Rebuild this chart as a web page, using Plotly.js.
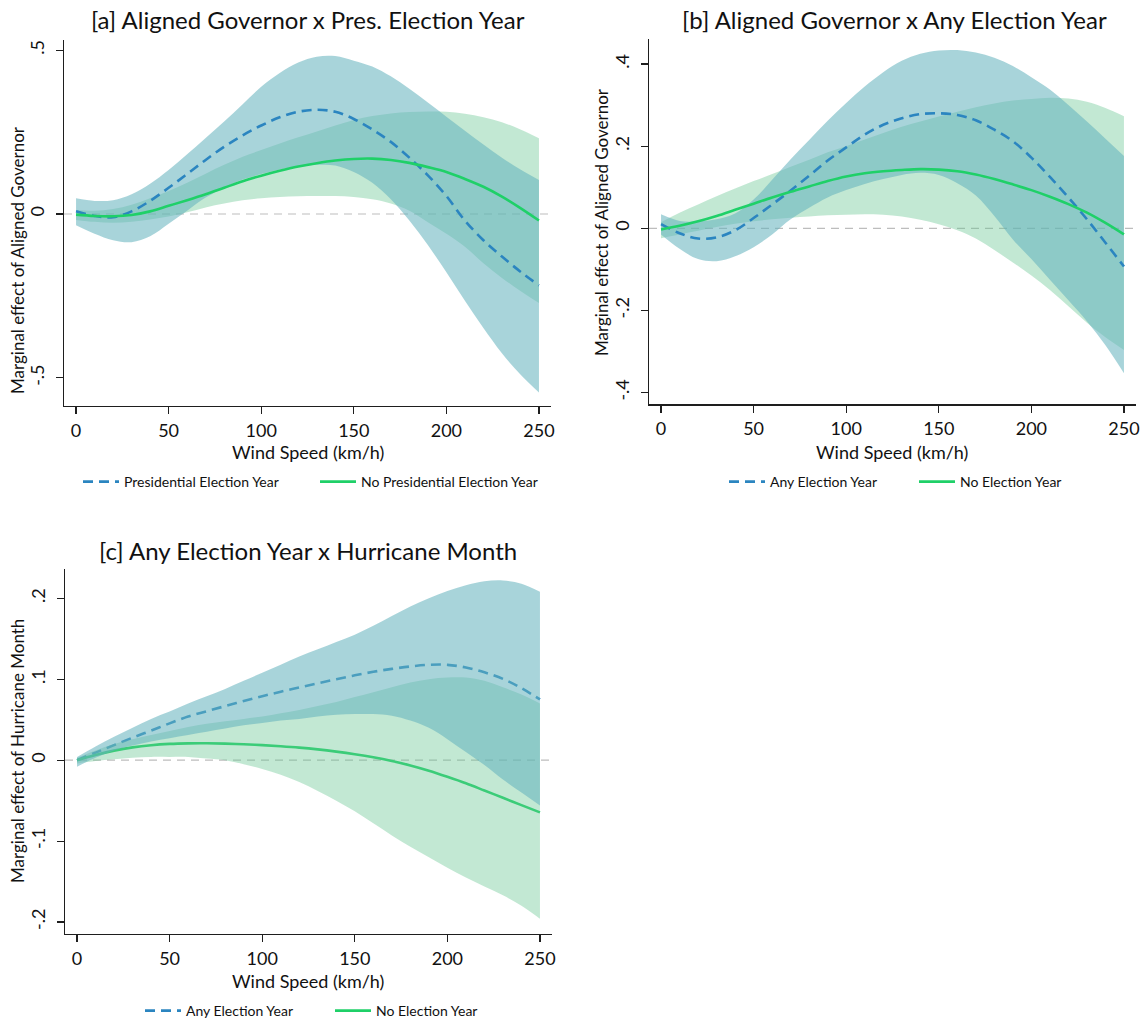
<!DOCTYPE html>
<html>
<head>
<meta charset="utf-8">
<script src="https://cdn.plot.ly/plotly-3.0.1.min.js"></script>
<style>html,body{margin:0;padding:0;background:#fff;}#chart{width:1143px;height:1023px;}</style>
</head>
<body>
<div id="chart"></div>
<script>
// Wind speed grid (km/h)
const windSpeed = [0,10,20,30,40,50,60,70,80,90,100,110,120,130,140,150,160,170,180,190,200,210,220,230,240,250];

// [a] Aligned Governor x Pres. Election Year
const aPresMean = [0.008,-0.006,-0.01,0.008,0.04,0.08,0.122,0.165,0.205,0.24,0.27,0.295,0.312,0.318,0.312,0.29,0.258,0.22,0.172,0.118,0.055,-0.02,-0.08,-0.13,-0.176,-0.218];
const aPresHi   = [0.048,0.04,0.042,0.06,0.092,0.134,0.182,0.232,0.282,0.335,0.388,0.43,0.462,0.48,0.482,0.468,0.45,0.42,0.382,0.34,0.297,0.254,0.212,0.172,0.136,0.104];
const aPresLo   = [-0.034,-0.06,-0.08,-0.086,-0.068,-0.03,0.01,0.05,0.08,0.105,0.122,0.136,0.145,0.15,0.148,0.128,0.095,0.045,-0.02,-0.095,-0.178,-0.265,-0.348,-0.425,-0.49,-0.545];
const aNoMean   = [-0.002,-0.006,-0.007,-0.003,0.008,0.025,0.042,0.06,0.08,0.1,0.117,0.132,0.145,0.155,0.163,0.168,0.169,0.165,0.156,0.143,0.128,0.107,0.083,0.053,0.018,-0.02];
const aNoHi     = [0.012,0.01,0.015,0.028,0.048,0.07,0.095,0.123,0.15,0.175,0.195,0.215,0.234,0.252,0.27,0.287,0.299,0.307,0.311,0.313,0.312,0.306,0.295,0.28,0.258,0.231];
const aNoLo     = [-0.018,-0.024,-0.027,-0.024,-0.017,-0.008,0.005,0.02,0.032,0.042,0.048,0.052,0.054,0.055,0.055,0.052,0.045,0.032,0.01,-0.025,-0.06,-0.1,-0.15,-0.195,-0.235,-0.272];

// [b] Aligned Governor x Any Election Year
const bAnyMean = [0.01,-0.012,-0.025,-0.022,-0.005,0.025,0.058,0.092,0.128,0.165,0.197,0.228,0.252,0.268,0.278,0.28,0.276,0.263,0.24,0.212,0.172,0.125,0.075,0.022,-0.035,-0.093];
const bAnyHi   = [0.034,0.018,0.017,0.022,0.036,0.07,0.118,0.168,0.215,0.262,0.305,0.345,0.38,0.408,0.425,0.433,0.434,0.428,0.415,0.395,0.368,0.338,0.3,0.26,0.218,0.176];
const bAnyLo   = [-0.015,-0.05,-0.075,-0.08,-0.068,-0.046,-0.015,0.022,0.05,0.075,0.093,0.108,0.12,0.13,0.135,0.13,0.11,0.08,0.03,-0.027,-0.075,-0.125,-0.175,-0.226,-0.285,-0.353];
const bNoMean  = [-0.003,0.006,0.017,0.03,0.045,0.06,0.075,0.089,0.102,0.115,0.126,0.134,0.139,0.142,0.144,0.143,0.139,0.131,0.12,0.107,0.093,0.077,0.059,0.038,0.013,-0.015];
const bNoHi    = [0.015,0.038,0.058,0.078,0.097,0.115,0.132,0.15,0.167,0.185,0.2,0.216,0.232,0.247,0.26,0.272,0.284,0.295,0.304,0.311,0.315,0.318,0.316,0.308,0.293,0.273];
const bNoLo    = [-0.024,-0.015,-0.006,0.003,0.011,0.017,0.022,0.026,0.029,0.032,0.033,0.034,0.033,0.029,0.021,0.01,-0.005,-0.025,-0.053,-0.083,-0.115,-0.15,-0.19,-0.23,-0.265,-0.296];

// [c] Any Election Year x Hurricane Month
const cAnyMean = [0,0.0093,0.0186,0.0278,0.0365,0.0455,0.054,0.0605,0.0668,0.073,0.079,0.0846,0.0899,0.095,0.1,0.1048,0.1092,0.1128,0.1158,0.1178,0.1178,0.1145,0.1085,0.1005,0.089,0.075];
const cAnyHi   = [0.004,0.017,0.029,0.04,0.051,0.06,0.07,0.079,0.088,0.098,0.108,0.118,0.128,0.137,0.146,0.155,0.166,0.178,0.19,0.2,0.209,0.216,0.221,0.222,0.218,0.208];
const cAnyLo   = [-0.008,0.003,0.012,0.018,0.023,0.027,0.031,0.035,0.039,0.043,0.046,0.049,0.051,0.054,0.056,0.057,0.057,0.055,0.049,0.04,0.026,0.01,-0.006,-0.024,-0.04,-0.056];
const cNoMean  = [0,0.0065,0.0118,0.0158,0.0185,0.0201,0.0208,0.0209,0.0205,0.0197,0.0186,0.0172,0.0155,0.0133,0.0106,0.0074,0.0036,-0.001,-0.0065,-0.013,-0.0205,-0.0285,-0.0375,-0.0465,-0.0555,-0.0645];
const cNoHi    = [0.003,0.012,0.02,0.026,0.031,0.036,0.041,0.045,0.048,0.051,0.054,0.058,0.062,0.067,0.072,0.078,0.084,0.09,0.096,0.1,0.102,0.102,0.098,0.09,0.081,0.07];
const cNoLo    = [-0.004,-0.001,0.001,0.003,0.004,0.004,0.004,0.002,0,-0.005,-0.011,-0.018,-0.027,-0.038,-0.05,-0.063,-0.078,-0.093,-0.107,-0.12,-0.133,-0.145,-0.156,-0.167,-0.18,-0.196];

// Tick labels
const xTickVals = [0,50,100,150,200,250];
const aYTickVals = [-0.5,0,0.5];       const aYTickText = ['-.5','0','.5'];
const bYTickVals = [-0.4,-0.2,0,0.2,0.4]; const bYTickText = ['-.4','-.2','0','.2','.4'];
const cYTickVals = [-0.2,-0.1,0,0.1,0.2]; const cYTickText = ['-.2','-.1','0','.1','.2'];

// Text
const titles = ['[a] Aligned Governor x Pres. Election Year','[b] Aligned Governor x Any Election Year','[c] Any Election Year x Hurricane Month'];
const yTitles = ['Marginal effect of Aligned Governor','Marginal effect of Aligned Governor','Marginal effect of Hurricane Month'];
const xTitle = 'Wind Speed (km/h)';
const aNames = ['Presidential Election Year','No Presidential Election Year'];
const bcNames = ['Any Election Year','No Election Year'];

// Styles
const FONT = 'Lato, "Open Sans", sans-serif';
const BLUE_LINE = '#2b85c0';
const GREEN_LINE = '#1fd068';
const BLUE_FILL = 'rgba(100,178,189,0.56)';
const GREEN_FILL = 'rgba(102,197,145,0.40)';
const AXIS_COL = '#1e1e1e';
const DASH = '10px,6px';

function bandTraces(lo, hi, fill, xa, ya) {
  return [
    {x: windSpeed, y: lo, mode:'lines', line:{width:0, shape:'spline'}, hoverinfo:'skip', showlegend:false, xaxis:xa, yaxis:ya},
    {x: windSpeed, y: hi, mode:'lines', line:{width:0, shape:'spline'}, fill:'tonexty', fillcolor: fill, hoverinfo:'skip', showlegend:false, xaxis:xa, yaxis:ya}
  ];
}
function lineTrace(y, name, color, dash, xa, ya, legend) {
  return {x: windSpeed, y: y, name: name, mode:'lines', line:{color: color, width: 2.6, dash: dash, shape:'spline'}, xaxis: xa, yaxis: ya, legend: legend, showlegend: true};
}

const traces = [].concat(
  // panel a: bands below lines
  bandTraces(aNoLo, aNoHi, GREEN_FILL, 'x', 'y'),
  bandTraces(aPresLo, aPresHi, BLUE_FILL, 'x', 'y'),
  [lineTrace(aPresMean, aNames[0], BLUE_LINE, DASH, 'x', 'y', 'legend'),
   lineTrace(aNoMean, aNames[1], GREEN_LINE, 'solid', 'x', 'y', 'legend')],
  // panel b
  bandTraces(bNoLo, bNoHi, GREEN_FILL, 'x2', 'y2'),
  bandTraces(bAnyLo, bAnyHi, BLUE_FILL, 'x2', 'y2'),
  [lineTrace(bAnyMean, bcNames[0], BLUE_LINE, DASH, 'x2', 'y2', 'legend2'),
   lineTrace(bNoMean, bcNames[1], GREEN_LINE, 'solid', 'x2', 'y2', 'legend2')],
  // panel c: lines under translucent bands
  [lineTrace(cAnyMean, bcNames[0], BLUE_LINE, DASH, 'x3', 'y3', 'legend3'),
   lineTrace(cNoMean, bcNames[1], GREEN_LINE, 'solid', 'x3', 'y3', 'legend3')],
  bandTraces(cNoLo, cNoHi, GREEN_FILL, 'x3', 'y3'),
  bandTraces(cAnyLo, cAnyHi, BLUE_FILL, 'x3', 'y3')
);

const W = 1143, H = 1023;
const px = v => v / W;
const py = v => 1 - v / H;

function xAxis(d0, d1, anchor) {
  return {domain:[px(d0), px(d1)], range:[-6.5, 256.5], anchor: anchor, tickvals: xTickVals, automargin:false,
    showline:true, linecolor:AXIS_COL, linewidth:1.2, ticks:'outside', ticklen:7, tickcolor:AXIS_COL, tickwidth:1.2,
    showgrid:false, zeroline:false, tickfont:{family:FONT, size:18, color:'#111'}, ticklabelstandoff:1};
}
function yAxis(t, b, range, vals, text, anchor) {
  return {domain:[py(b), py(t)], range: range, anchor: anchor, tickvals: vals, ticktext: text, tickangle:-90, automargin:false,
    showline:true, linecolor:AXIS_COL, linewidth:1.2, ticks:'outside', ticklen:7, tickcolor:AXIS_COL, tickwidth:1.2,
    showgrid:false, zeroline:false, tickfont:{family:FONT, size:18, color:'#111'}, ticklabelstandoff:5};
}

function ann(text, x, y, size, angle) {
  return {text: text, x: px(x), y: py(y), xref:'paper', yref:'paper', xanchor:'center', yanchor:'middle',
    showarrow:false, textangle: angle || 0, font:{family:FONT, size:size, color:'#111'}};
}
function legendBox(x, y, entryW) {
  return {orientation:'h', x: px(x), xanchor:'left', y: py(y), yanchor:'middle', font:{family:FONT, size:14, color:'#111'},
    itemwidth:36, entrywidth: entryW, entrywidthmode:'pixels', bgcolor:'rgba(0,0,0,0)', traceorder:'normal'};
}

const layout = {
  width: W, height: H, margin:{l:0, r:0, t:0, b:0, autoexpand:false}, paper_bgcolor:'#fff', plot_bgcolor:'rgba(0,0,0,0)',
  showlegend:true,
  xaxis: xAxis(64, 551, 'y'),
  yaxis: yAxis(40, 406, [-0.586, 0.531], aYTickVals, aYTickText, 'x'),
  xaxis2: xAxis(649, 1136, 'y2'),
  yaxis2: yAxis(39.3, 404.3, [-0.4285, 0.4602], bYTickVals, bYTickText, 'x2'),
  xaxis3: xAxis(65, 552, 'y3'),
  yaxis3: yAxis(569, 933.7, [-0.2144, 0.2362], cYTickVals, cYTickText, 'x3'),
  shapes: [
    {type:'line', xref:'x domain', yref:'y', x0:0, x1:1, y0:0, y1:0, layer:'below', line:{color:'#bdbdbd', width:1.2, dash:'8px,6px'}},
    {type:'line', xref:'x2 domain', yref:'y2', x0:0, x1:1, y0:0, y1:0, layer:'below', line:{color:'#bdbdbd', width:1.2, dash:'8px,6px'}},
    {type:'line', xref:'x3 domain', yref:'y3', x0:0, x1:1, y0:0, y1:0, layer:'below', line:{color:'#bdbdbd', width:1.2, dash:'8px,6px'}}
  ],
  annotations: [
    ann(titles[0], 308, 20, 24),
    ann(titles[1], 894, 20, 24),
    ann(titles[2], 308, 550, 24),
    ann(yTitles[0], 17, 260, 17, -90),
    ann(yTitles[1], 601, 222, 17, -90),
    ann(yTitles[2], 17, 751, 17, -90),
    ann(xTitle, 308, 452, 18),
    ann(xTitle, 892, 452, 18),
    ann(xTitle, 308, 981, 18)
  ],
  legend:  legendBox(78, 482, 186),
  legend2: legendBox(724, 482, 139),
  legend3: legendBox(140, 1011, 139)
};

Plotly.newPlot('chart', traces, layout, {displayModeBar:false, staticPlot:true});
</script>
</body>
</html>
